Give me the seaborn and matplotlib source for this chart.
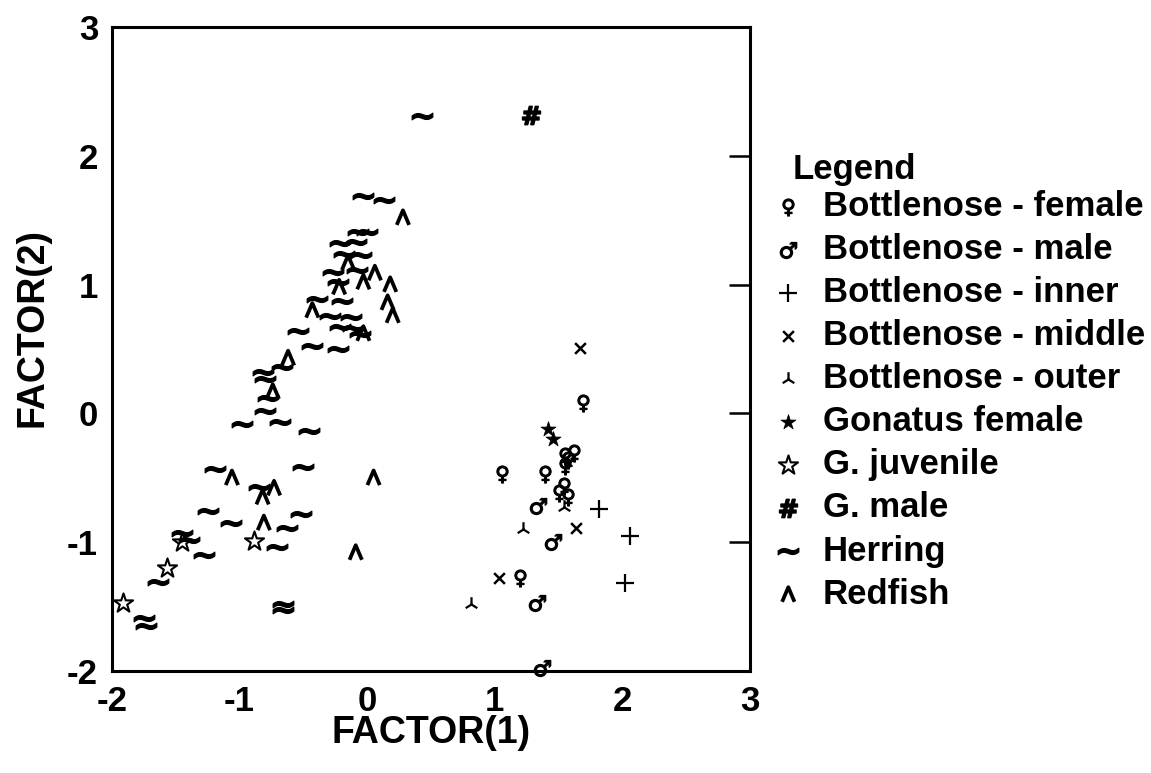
import matplotlib
matplotlib.use("Agg")
import matplotlib.pyplot as plt
import seaborn as sns
import pandas as pd
from matplotlib.path import Path

# ---------------- data ----------------
herring_x = [0.43, -0.03, 0.13, -0.07, 0.0, -0.21, -0.09, -0.18, -0.05, -0.27, -0.08, -0.23,
             -0.39, -0.20, -0.29, -0.13, -0.21, -0.11, -0.06, -0.54, -0.43, -0.23, -0.67,
             -0.82, -0.80, -0.78, -0.80, -0.98, -0.68, -0.46, -1.19, -0.50, -0.85, -1.25,
             -1.07, -0.52, -0.63, -1.45, -1.40, -0.71, -1.28, -1.64, -1.75, -1.73, -0.66, -0.66]
herring_y = [2.31, 1.69, 1.66, 1.41, 1.41, 1.32, 1.33, 1.24, 1.23, 1.10, 1.11, 1.02,
             0.89, 0.87, 0.76, 0.75, 0.67, 0.66, 0.62, 0.64, 0.52, 0.50, 0.36,
             0.32, 0.27, 0.12, 0.02, -0.08, -0.07, -0.14, -0.43, -0.42, -0.57, -0.76,
             -0.85, -0.78, -0.89, -0.93, -0.98, -1.04, -1.10, -1.31, -1.59, -1.65, -1.48, -1.53]

redfish_x = [0.28, -0.15, -0.22, -0.03, 0.06, 0.18, 0.16, 0.20, -0.43, -0.03, -0.62, -0.74,
             -1.06, -0.82, -0.73, -0.81, 0.05, -0.09]
redfish_y = [1.52, 1.17, 0.98, 1.02, 1.09, 1.00, 0.86, 0.76, 0.80, 0.62, 0.43, 0.17,
             -0.50, -0.65, -0.58, -0.85, -0.50, -1.08]

bn_female_x = [1.69, 1.55, 1.62, 1.57, 1.55, 1.06, 1.39, 1.54, 1.50, 1.57, 1.20]
bn_female_y = [0.08, -0.33, -0.31, -0.36, -0.41, -0.47, -0.47, -0.56, -0.62, -0.65, -1.28]

bn_male_x = [1.34, 1.46, 1.33, 1.37]
bn_male_y = [-0.72, -1.00, -1.47, -1.98]

bn_inner_x = [1.82, 2.06, 2.02]
bn_inner_y = [-0.74, -0.95, -1.32]

bn_middle_x = [1.67, 1.64, 1.03]
bn_middle_y = [0.51, -0.89, -1.28]

bn_outer_x = [1.54, 1.22, 0.81]
bn_outer_y = [-0.73, -0.90, -1.48]

gon_female_x = [1.42, 1.46]
gon_female_y = [-0.12, -0.20]

g_juv_x = [-1.45, -0.89, -1.57, -1.91]
g_juv_y = [-1.00, -0.99, -1.20, -1.47]

g_male_x = [1.28]
g_male_y = [2.32]

labels = ["Bottlenose - female", "Bottlenose - male", "Bottlenose - inner",
          "Bottlenose - middle", "Bottlenose - outer", "Gonatus female",
          "G. juvenile", "G. male", "Herring", "Redfish"]
tick_values = [-2, -1, 0, 1, 2, 3]

# ---------------- style ----------------
sns.set_theme(style="white")
plt.rcParams["font.family"] = ["Liberation Sans", "DejaVu Sans"]
plt.rcParams["font.weight"] = "bold"
plt.rcParams["mathtext.fontset"] = "dejavusans"
plt.rcParams["text.color"] = "black"
plt.rcParams["axes.labelcolor"] = "black"
plt.rcParams["xtick.color"] = "black"
plt.rcParams["ytick.color"] = "black"

fig = plt.figure(figsize=(11.51, 7.73), dpi=100)
W, H = 1151, 773
ax = fig.add_axes([112 / W, 1 - 671 / H, (750 - 112) / W, (671 - 27) / H])

caret = Path([(-0.85, -1.0), (0.0, 1.0), (0.85, -1.0)],
             [Path.MOVETO, Path.LINETO, Path.LINETO])

groups = [
    (bn_female_x, bn_female_y, dict(marker="$\u2640$", s=150, color="black", edgecolor="black", linewidth=0.9)),
    (bn_male_x, bn_male_y, dict(marker="$\u2642$", s=140, color="black", edgecolor="black", linewidth=0.9)),
    (bn_inner_x, bn_inner_y, dict(marker="+", s=160, color="black", linewidth=1.6)),
    (bn_middle_x, bn_middle_y, dict(marker="x", s=60, color="black", linewidth=1.8)),
    (bn_outer_x, bn_outer_y, dict(marker="2", s=110, color="black", linewidth=1.6)),
    (gon_female_x, gon_female_y, dict(marker="*", s=130, color="black", edgecolor="black", linewidth=0.5)),
    (g_juv_x, g_juv_y, dict(marker="*", s=210, color="black", facecolor="white", edgecolor="black", linewidth=1.5)),
    (g_male_x, g_male_y, dict(marker=r"$\#$", s=170, color="black", edgecolor="black", linewidth=1.2)),
    (herring_x, herring_y, dict(marker=r"$\sim$", s=220, color="black", edgecolor="black", linewidth=0.9)),
    (redfish_x, redfish_y, dict(marker=caret, s=110, color="black", facecolor="none", edgecolor="black", linewidth=2.7)),
]

for (gx, gy, kw), lab in zip(groups, labels):
    df = pd.DataFrame({"x": gx, "y": gy})
    sns.scatterplot(data=df, x="x", y="y", ax=ax, label=lab, legend=False, clip_on=False, **kw)

ax.set_xlim(-2, 3)
ax.set_ylim(-2, 3)
ax.set_xticks(tick_values)
ax.set_yticks(tick_values)
ax.set_xticklabels([str(v) for v in tick_values], fontsize=25, fontweight="bold")
ax.set_yticklabels([str(v) for v in tick_values], fontsize=25, fontweight="bold")
ax.tick_params(axis="both", direction="in", length=15, width=1.8, colors="black",
               top=False, right=True, pad=10)
for sp in ax.spines.values():
    sp.set_linewidth(2.2)
    sp.set_color("black")
    sp.set_visible(True)

ax.set_xlabel("FACTOR(1)", fontsize=27, fontweight="bold", labelpad=-2, color="black")
ax.set_ylabel("FACTOR(2)", fontsize=27, fontweight="bold", color="black")
ax.yaxis.set_label_coords(-0.097, 0.534)

handles, labs = ax.get_legend_handles_labels()
leg = ax.legend(handles, labs, loc="upper left", bbox_to_anchor=(764 / W, 1 - 190 / H),
                bbox_transform=fig.transFigure, frameon=False,
                prop={"size": 25, "weight": "bold"}, labelcolor="black",
                handlelength=1.4, handletextpad=0.3, labelspacing=0.29,
                borderpad=0, borderaxespad=0)
fig.text(793 / W, 1 - 170 / H, "Legend", fontsize=25, fontweight="bold",
         ha="left", va="center", color="black")

fig.savefig("out.png", dpi=100, facecolor="white")
